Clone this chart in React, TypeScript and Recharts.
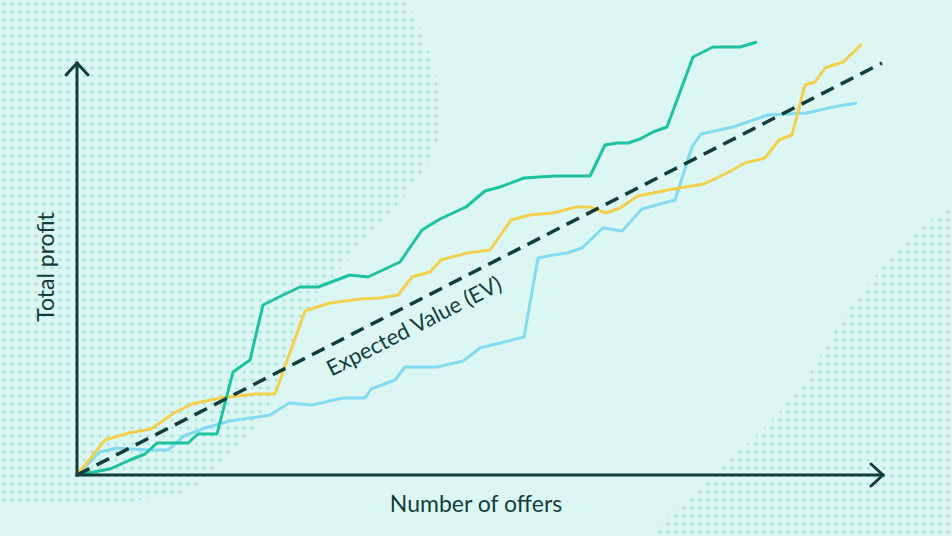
import {
  Line,
  LineChart,
  ReferenceDot,
  ReferenceLine,
  XAxis,
  YAxis,
} from "recharts";

// Three sample runs (offers, cumulative profit)
const tealRun = [
  { offers: 0, profit: 0 },
  { offers: 33, profit: 6 },
  { offers: 53, profit: 15 },
  { offers: 68, profit: 21 },
  { offers: 80, profit: 32 },
  { offers: 111, profit: 32 },
  { offers: 121, profit: 41 },
  { offers: 140, profit: 41 },
  { offers: 156, profit: 103 },
  { offers: 173, profit: 115 },
  { offers: 186, profit: 170 },
  { offers: 206, profit: 180 },
  { offers: 223, profit: 188 },
  { offers: 241, profit: 188 },
  { offers: 273, profit: 200 },
  { offers: 291, profit: 198 },
  { offers: 323, profit: 213 },
  { offers: 345, profit: 245 },
  { offers: 363, profit: 256 },
  { offers: 389, profit: 268 },
  { offers: 408, profit: 284 },
  { offers: 423, profit: 288 },
  { offers: 447, profit: 297 },
  { offers: 478, profit: 299 },
  { offers: 513, profit: 299 },
  { offers: 528, profit: 330 },
  { offers: 540, profit: 332 },
  { offers: 551, profit: 332 },
  { offers: 563, profit: 336 },
  { offers: 576, profit: 343 },
  { offers: 590, profit: 348 },
  { offers: 616, profit: 418 },
  { offers: 636, profit: 428 },
  { offers: 663, profit: 428 },
  { offers: 680, profit: 433 },
];

const yellowRun = [
  { offers: 0, profit: 0 },
  { offers: 28, profit: 35 },
  { offers: 52, profit: 42 },
  { offers: 74, profit: 46 },
  { offers: 97, profit: 62 },
  { offers: 115, profit: 71 },
  { offers: 143, profit: 77 },
  { offers: 178, profit: 81 },
  { offers: 198, profit: 81 },
  { offers: 228, profit: 164 },
  { offers: 253, profit: 172 },
  { offers: 283, profit: 176 },
  { offers: 303, profit: 177 },
  { offers: 321, profit: 180 },
  { offers: 335, profit: 198 },
  { offers: 353, profit: 203 },
  { offers: 364, profit: 215 },
  { offers: 390, profit: 222 },
  { offers: 413, profit: 225 },
  { offers: 434, profit: 255 },
  { offers: 453, profit: 260 },
  { offers: 476, profit: 262 },
  { offers: 499, profit: 268 },
  { offers: 513, profit: 268 },
  { offers: 529, profit: 262 },
  { offers: 543, profit: 267 },
  { offers: 561, profit: 279 },
  { offers: 596, profit: 286 },
  { offers: 627, profit: 291 },
  { offers: 650, profit: 302 },
  { offers: 668, profit: 312 },
  { offers: 688, profit: 317 },
  { offers: 702, profit: 335 },
  { offers: 715, profit: 340 },
  { offers: 728, profit: 390 },
  { offers: 738, profit: 393 },
  { offers: 748, profit: 407 },
  { offers: 766, profit: 413 },
  { offers: 785, profit: 431 },
];

const blueRun = [
  { offers: 0, profit: 0 },
  { offers: 23, profit: 23 },
  { offers: 40, profit: 27 },
  { offers: 71, profit: 25 },
  { offers: 91, profit: 25 },
  { offers: 107, profit: 39 },
  { offers: 128, profit: 47 },
  { offers: 153, profit: 54 },
  { offers: 193, profit: 60 },
  { offers: 212, profit: 72 },
  { offers: 235, profit: 70 },
  { offers: 266, profit: 77 },
  { offers: 288, profit: 77 },
  { offers: 294, profit: 86 },
  { offers: 318, profit: 95 },
  { offers: 328, profit: 108 },
  { offers: 360, profit: 108 },
  { offers: 386, profit: 114 },
  { offers: 403, profit: 127 },
  { offers: 447, profit: 138 },
  { offers: 461, profit: 217 },
  { offers: 476, profit: 220 },
  { offers: 490, profit: 222 },
  { offers: 505, profit: 227 },
  { offers: 526, profit: 247 },
  { offers: 545, profit: 244 },
  { offers: 565, profit: 266 },
  { offers: 598, profit: 275 },
  { offers: 615, profit: 328 },
  { offers: 624, profit: 341 },
  { offers: 656, profit: 348 },
  { offers: 691, profit: 360 },
  { offers: 730, profit: 362 },
  { offers: 756, profit: 368 },
  { offers: 780, profit: 372 },
];

const expectedValue = [
  { offers: 0, profit: 0 },
  { offers: 805, profit: 412 },
];

const evLabel = { offers: 337, profit: 149, text: "Expected Value (EV)" };
const xMax = 806;
const yAxisTop = 412;
const yMax = 435;

const W = 952;
const H = 536;
const INK = "#133d3c";
const BG = "#dcf7f3";
const FONT = "Lato, 'Noto Sans', sans-serif";

export default function App() {
  return (
    <div
      style={{
        position: "fixed",
        left: 0,
        top: 0,
        width: W,
        height: H,
        background: BG,
        overflow: "hidden",
        fontFamily: FONT,
        color: INK,
      }}
    >
      {/* dotted backdrop blobs */}
      <svg width={W} height={H} style={{ position: "absolute", left: 0, top: 0 }}>
        <defs>
          <pattern id="dots" width="8" height="8" patternUnits="userSpaceOnUse">
            <rect x="2.6" y="2.6" width="3" height="3" rx="1" fill="#abe5db" />
          </pattern>
        </defs>
        <path
          d="M0,0 L405,0 C430,40 447,100 438,140 C420,200 330,260 300,330 C278,390 262,440 190,490 C150,505 60,505 0,505 Z"
          fill="url(#dots)"
        />
        <path
          d="M952,205 C900,240 850,300 812,370 C775,430 700,480 650,536 L952,536 Z"
          fill="url(#dots)"
        />
      </svg>

      <LineChart
        width={W}
        height={H}
        margin={{ top: 40, right: 69, bottom: 61, left: 77 }}
        style={{ position: "absolute", left: 0, top: 0 }}
      >
        <defs>
          <marker
            id="arrowHead"
            viewBox="-16 -13 19 26"
            refX="0"
            refY="0"
            markerWidth="19"
            markerHeight="26"
            markerUnits="userSpaceOnUse"
            orient="auto"
          >
            <path
              d="M-12,-11 L0,0 L-12,11"
              fill="none"
              stroke={INK}
              strokeWidth={3}
              strokeLinecap="round"
              strokeLinejoin="round"
            />
          </marker>
        </defs>
        <XAxis type="number" dataKey="offers" domain={[0, xMax]} hide />
        <YAxis type="number" dataKey="profit" domain={[0, yMax]} hide />

        <Line
          data={blueRun}
          dataKey="profit"
          stroke="#84daf1"
          strokeWidth={3}
          dot={false}
          strokeLinejoin="round"
          isAnimationActive={false}
        />
        <Line
          data={yellowRun}
          dataKey="profit"
          stroke="#f3d14f"
          strokeWidth={3}
          dot={false}
          strokeLinejoin="round"
          isAnimationActive={false}
        />
        <Line
          data={tealRun}
          dataKey="profit"
          stroke="#1fc2a0"
          strokeWidth={3}
          dot={false}
          strokeLinejoin="round"
          isAnimationActive={false}
        />
        <Line
          data={expectedValue}
          dataKey="profit"
          stroke={INK}
          strokeWidth={3.5}
          strokeDasharray="14 8"
          dot={false}
          isAnimationActive={false}
        />

        <ReferenceLine
          segment={[
            { x: 0, y: 0 },
            { x: xMax, y: 0 },
          ]}
          stroke={INK}
          strokeWidth={3}
          strokeLinecap="square"
          markerEnd="url(#arrowHead)"
          ifOverflow="visible"
        />
        <ReferenceLine
          segment={[
            { x: 0, y: 0 },
            { x: 0, y: yAxisTop },
          ]}
          stroke={INK}
          strokeWidth={3}
          strokeLinecap="square"
          markerEnd="url(#arrowHead)"
          ifOverflow="visible"
        />

        <ReferenceDot
          x={evLabel.offers}
          y={evLabel.profit}
          r={0}
          fill="none"
          stroke="none"
          ifOverflow="visible"
          label={{
            value: evLabel.text,
            position: "center",
            angle: -27,
            fill: INK,
            fontSize: 22,
            fontFamily: FONT,
          }}
        />
      </LineChart>

      <div
        style={{
          position: "absolute",
          left: 45,
          top: 267,
          transform: "translate(-50%, -50%) rotate(-90deg)",
          whiteSpace: "nowrap",
          fontSize: 23,
        }}
      >
        Total profit
      </div>
      <div
        style={{
          position: "absolute",
          left: 476,
          top: 503,
          transform: "translate(-50%, -50%)",
          whiteSpace: "nowrap",
          fontSize: 23,
        }}
      >
        Number of offers
      </div>
    </div>
  );
}
